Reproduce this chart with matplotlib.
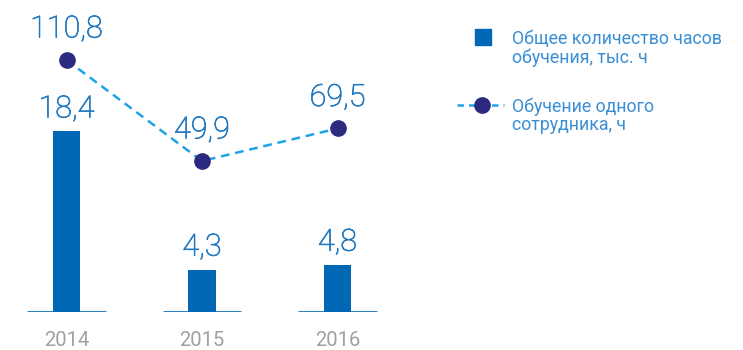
import matplotlib
matplotlib.use("Agg")
import matplotlib.pyplot as plt
import matplotlib.patheffects as pe
from matplotlib.lines import Line2D

plt.rcParams['font.family'] = ['Roboto', 'DejaVu Sans']

# Data
years = ["2014", "2015", "2016"]
total_hours = [18.4, 4.3, 4.8]          # тыс. ч
hours_per_employee = [110.8, 49.9, 69.5]  # ч

total_labels = ["18,4", "4,3", "4,8"]
per_employee_labels = ["110,8", "49,9", "69,5"]

legend_total = ["Общее количество часов", "обучения, тыс. ч"]
legend_per_employee = ["Обучение одного", "сотрудника, ч"]

# Colours
BAR = "#0068b4"
DOT = "#2b2a80"
DASH = "#1ea4e6"
VALUE = "#1f78c0"
LEGEND_TXT = "#3a8fd4"
YEAR = "#a0a0a0"

# slightly heavier than the light face
value_fx = [pe.withStroke(linewidth=0.5, foreground=VALUE)]

W, H, DPI = 743, 350, 100
fig = plt.figure(figsize=(W / DPI, H / DPI), dpi=DPI)
fig.patch.set_facecolor("white")

base_px = 38.3  # distance of the baseline from the bottom edge
ax = fig.add_axes([0, base_px / H, 1, 1 - base_px / H])
x = list(range(len(years)))
spacing = 135.5
first_px = 66.5
ax.set_xlim(-first_px / spacing, (W - first_px) / spacing)
ax.set_ylim(0, 31.8)

ax.bar(x, total_hours, width=0.2, color=BAR, zorder=3)
ax.hlines([0] * len(x), [i - 0.29 for i in x], [i + 0.29 for i in x],
          colors=BAR, linewidth=1.9, zorder=4)

for xi, v, lab in zip(x, total_hours, total_labels):
    ax.annotate(lab, xy=(xi, v), xytext=(0, 10), textcoords="offset points",
                ha="center", va="baseline", fontsize=22, color=VALUE,
                fontweight="light", path_effects=value_fx)

ax.set_xticks(x)
ax.set_xticklabels(years, fontsize=14.5, color=YEAR)
ax.tick_params(axis="x", length=0, pad=14)
ax.set_yticks([])
for s in ax.spines.values():
    s.set_visible(False)
ax.patch.set_visible(False)

ax2 = ax.twinx()
ax2.set_ylim(-41.0, 147.0)
ax2.plot(x, hours_per_employee, color=DASH, linewidth=1.8,
         linestyle=(0, (3.5, 2.3)), zorder=5)
ax2.plot(x, hours_per_employee, linestyle="none", marker="o", markersize=11,
         markerfacecolor=DOT, markeredgecolor=DOT, zorder=6)
for xi, v, lab in zip(x, hours_per_employee, per_employee_labels):
    ax2.annotate(lab, xy=(xi, v), xytext=(0, 16.2), textcoords="offset points",
                 ha="center", va="baseline", fontsize=22, color=VALUE,
                 fontweight="light", path_effects=value_fx)
ax2.set_yticks([])
for s in ax2.spines.values():
    s.set_visible(False)

# Legend, laid out in pixel coordinates
lax = fig.add_axes([0, 0, 1, 1])
lax.set_xlim(0, W)
lax.set_ylim(H, 0)
lax.axis("off")

lax.add_line(Line2D([483], [36.5], marker="s", markersize=11.5,
                    markerfacecolor=BAR, markeredgecolor=BAR, linestyle="none"))
lax.add_line(Line2D([457, 504], [105, 105], color=DASH, linewidth=1.8,
                    linestyle=(0, (2.6, 2.0))))
lax.add_line(Line2D([482], [105], marker="o", markersize=11,
                    markerfacecolor=DOT, markeredgecolor=DOT, linestyle="none"))

for lines, y0 in ((legend_total, 44.3), (legend_per_employee, 111.5)):
    for k, line in enumerate(lines):
        lax.text(512, y0 + 18.5 * k, line, fontsize=12.8, color=LEGEND_TXT,
                 va="baseline", ha="left")

fig.savefig("out.png", dpi=DPI)
